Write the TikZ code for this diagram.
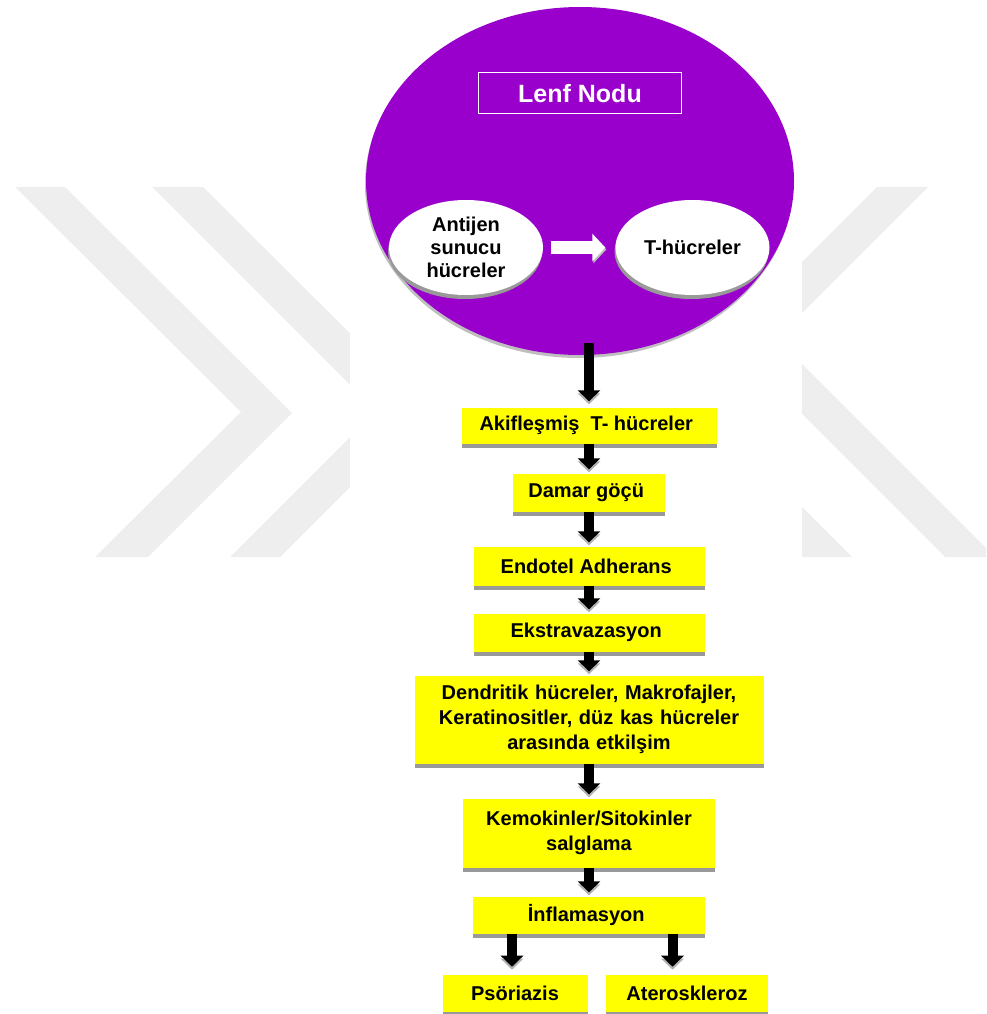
\documentclass[tikz,border=0pt]{standalone}
\usepackage{fontspec}
\setmainfont{Liberation Sans}
\usetikzlibrary{matrix,arrows.meta,positioning,shapes.geometric,shadows}

\definecolor{lenfmor}{RGB}{153,0,204}
\definecolor{kutusari}{RGB}{255,255,0}
\definecolor{filigran}{RGB}{238,238,238}

\tikzset{
  kutu/.style={rectangle, fill=kutusari, inner sep=0pt, align=center,
    font=\fontsize{20}{25}\selectfont\bfseries,
    drop shadow={shadow xshift=0pt, shadow yshift=-4pt, fill=black!40, opacity=1}},
  hucre/.style={ellipse, fill=white, inner sep=0pt, align=center,
    minimum width=154pt, minimum height=95pt,
    font=\fontsize{20}{23}\selectfont\bfseries,
    drop shadow={shadow xshift=-1pt, shadow yshift=-4pt, fill=black!40, opacity=1}},
  lenf/.style={ellipse, fill=lenfmor, inner sep=0pt,
    minimum width=428pt, minimum height=348pt,
    drop shadow={shadow xshift=-1pt, shadow yshift=-3pt, fill=black!25, opacity=1}},
  baslik/.style={rectangle, draw=white, line width=1pt, text=white,
    minimum width=203pt, minimum height=41pt,
    font=\fontsize{25}{30}\selectfont\bfseries},
  ok/.style={line width=10pt, -{Triangle[width=22pt,length=11pt]}, shorten >=4pt,
    preaction={draw=black!30, transform canvas={yshift=-3pt}}},
  beyazok/.style={line width=13pt, white, -{Triangle[width=27pt,length=13pt]},
    shorten <=8pt, shorten >=10pt,
    preaction={draw=black!25, transform canvas={xshift=1pt, yshift=-2pt}}}
}

\begin{document}
\begin{tikzpicture}[x=1pt,y=1pt]
\useasboundingbox (0,0) rectangle (986,-1014);
% filigran
\begin{scope}
\clip (0,0) rectangle (986,-1014);
\fill[filigran] (15,-187) -- (65,-187) -- (292,-413) -- (148,-557) -- (95,-557) -- (241,-412) -- cycle;
\fill[filigran] (152,-187) -- (203,-187) -- (427,-410) -- (280,-557) -- (230,-557) -- (376,-411) -- cycle;
\fill[filigran] (877,-187) -- (928,-187) -- (776.5,-338.5) -- (995,-557) -- (945,-557) -- (726,-338) -- cycle;
\fill[filigran] (734,-187) -- (785,-187) -- (633.5,-338.5) -- (852,-557) -- (802,-557) -- (583,-338) -- cycle;
\fill[white] (350,0) rectangle (802,-1014);
\end{scope}

% lenf nodu
\node[lenf] (lenf) at (580,-181) {};
\node[baslik] (baslik) at (580,-93.5) {Lenf Nodu};
\node[hucre] (apc) at (466,-247.5) {Antijen\\sunucu\\hücreler};
\node[hucre] (tc) at (692.5,-247.5) {T-hücreler};
\draw[beyazok] (apc) -- (tc);

\matrix (m) [matrix of nodes, row sep=0pt, nodes={kutu}, anchor=north] at (589,-404)
{
	|[minimum width=255pt, minimum height=36pt]| Akifleşmiş\ \ T- hücreler \\[30pt]
	|[minimum width=152pt, minimum height=38pt]| Damar göçü \\[35pt]
	|[minimum width=231pt, minimum height=39pt]| Endotel Adherans \\[28pt]
	|[minimum width=231pt, minimum height=38pt]| Ekstravazasyon \\[24pt]
	|[text width=349pt, minimum height=88pt]| Dendritik hücreler, Makrofajler,\break Keratinositler, düz kas hücreler\break arasında etkilşim \\[35pt]
	|[text width=252pt, minimum height=69pt]| Kemokinler/Sitokinler\break salglama \\[29pt]
	|[minimum width=232pt, minimum height=37pt]| İnflamasyon \\
};
\node[kutu, minimum width=145pt, minimum height=37pt, below=41pt of m-7-1, xshift=-74pt] (psor) {Psöriazis};
\node[kutu, minimum width=162pt, minimum height=37pt, below=41pt of m-7-1, xshift=98pt] (ater) {Ateroskleroz};

\draw[ok] ([yshift=12pt]m-1-1.north |- lenf.south) -- ([yshift=2pt]m-1-1.north);
\foreach \i/\j in {1/2,2/3,3/4,4/5,5/6,6/7}
	\draw[ok] (m-\i-1) -- (m-\j-1);
\draw[ok] ([xshift=-3pt]psor.north |- m-7-1.south) -- ([xshift=-3pt,yshift=4pt]psor.north);
\draw[ok] ([xshift=-14.5pt]ater.north |- m-7-1.south) -- ([xshift=-14.5pt,yshift=4pt]ater.north);
\end{tikzpicture}
\end{document}
